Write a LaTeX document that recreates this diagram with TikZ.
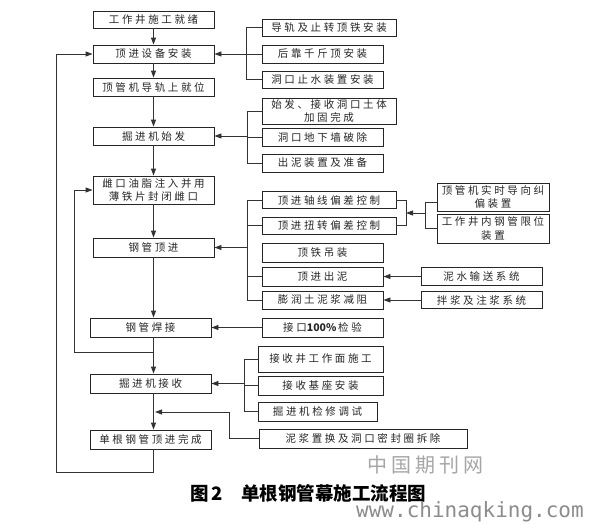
\documentclass[tikz,border=0pt]{standalone}
\usepackage{fontspec}
\usetikzlibrary{arrows.meta}
\newfontfamily\boxfont[LetterSpace=25]{Noto Sans CJK SC}
\newfontfamily\capfont{Noto Sans CJK SC}
\newfontfamily\wmfont[LetterSpace=20]{Noto Sans CJK SC}
\newfontfamily\wmmono{DejaVu Sans Mono}
\begin{document}
\begin{tikzpicture}[x=1pt,y=-1pt,
  box/.style={draw=black!85, line width=0.9pt, fill=white, inner sep=0pt,
    text=black!85, align=center, font=\boxfont\fontsize{10.5}{13.5}\selectfont},
  ln/.style={draw=black!80, line width=0.9pt},
  arr/.style={ln, -{Triangle[length=7pt,width=5pt]}}]
\useasboundingbox (0,0) rectangle (590,523);
\fill[white] (0,0) rectangle (590,523);
% helper coordinates
\coordinate (cl) at (153.5,0);
\coordinate (bx2) at (248,0);
\coordinate (bx3) at (248,0);
\coordinate (bx4) at (245,0);
% left column
\node[box, minimum width=121pt, minimum height=17pt] (a1) at (153.5,19.5) {工作井施工就绪};
\node[box, minimum width=121pt, minimum height=18pt] (a2) at (153.5,54) {顶进设备安装};
\node[box, minimum width=121pt, minimum height=18pt] (a3) at (153.5,87) {顶管机导轨上就位};
\node[box, minimum width=121pt, minimum height=18pt] (a4) at (153.5,136) {掘进机始发};
\node[box, minimum width=121pt, minimum height=28pt] (a5) at (153.5,190) {雌口油脂注入并用\\薄铁片封闭雌口};
\node[box, minimum width=121pt, minimum height=19pt] (a6) at (153.5,247.5) {钢管顶进};
\node[box, minimum width=121pt, minimum height=19pt] (a7) at (150.5,327.5) {钢管焊接};
\node[box, minimum width=121pt, minimum height=19pt] (a8) at (150.5,383.5) {掘进机接收};
\node[box, minimum width=121pt, minimum height=19pt] (a9) at (150.5,439.5) {单根钢管顶进完成};
% group 1
\node[box, minimum width=134pt, minimum height=17pt] (b1) at (329,27.5) {导轨及止转顶铁安装};
\node[box, minimum width=121pt, minimum height=18pt] (b2) at (322.5,54) {后靠千斤顶安装};
\node[box, minimum width=121pt, minimum height=17pt] (b3) at (322.5,79.5) {洞口止水装置安装};
% group 2
\node[box, minimum width=134pt, minimum height=26pt] (c1) at (329,111) {始发、接收洞口土体\\加固完成};
\node[box, minimum width=121pt, minimum height=18pt] (c2) at (322.5,137.5) {洞口地下墙破除};
\node[box, minimum width=121pt, minimum height=18pt] (c3) at (322.5,163) {出泥装置及准备};
% group 3
\node[box, minimum width=134pt, minimum height=17pt] (d1) at (329,200) {顶进轴线偏差控制};
\node[box, minimum width=134pt, minimum height=17pt] (d2) at (329,225.5) {顶进扭转偏差控制};
\node[box, minimum width=121pt, minimum height=19pt] (d3) at (322.5,252.5) {顶铁吊装};
\node[box, minimum width=121pt, minimum height=19pt] (d4) at (322.5,276.5) {顶进出泥};
\node[box, minimum width=121pt, minimum height=18pt] (d5) at (322.5,300) {膨润土泥浆减阻};
\node[box, minimum width=112pt, minimum height=28pt] (f1) at (493,197) {顶管机实时导向纠\\偏装置};
\node[box, minimum width=112pt, minimum height=29pt] (f2) at (493,228.5) {工作井内钢管限位\\装置};
\node[box, minimum width=121pt, minimum height=18pt] (g1) at (481.5,276.5) {泥水输送系统};
\node[box, minimum width=121pt, minimum height=17pt] (g2) at (481.5,300) {拌浆及注浆系统};
\node[box, minimum width=121pt, minimum height=19pt] (h1) at (322.5,327.5) {接口{\capfont\bfseries 100\%}\,检验};
% group 4
\node[box, minimum width=125pt, minimum height=26pt] (e1) at (320.5,359) {接收井工作面施工};
\node[box, minimum width=125pt, minimum height=19pt] (e2) at (320.5,385.5) {接收基座安装};
\node[box, minimum width=119pt, minimum height=19pt] (e3) at (317.5,411.5) {掘进机检修调试};
\node[box, minimum width=208pt, minimum height=19pt] (m1) at (363,438.5) {泥浆置换及洞口密封圈拆除};
% free-end coordinates
\coordinate (sb) at (406,213);
\coordinate (rb) at (426,213);
\coordinate (j1) at (155,412);
\coordinate (ob) at (56,472);
\coordinate (ib) at (74,352);
% main column arrows
\draw[arr] (a1) -- (a2);
\draw[arr] (a2) -- (a3);
\draw[arr] (a3) -- (a4);
\draw[arr] (a4) -- (a5);
\draw[arr] (a5) -- (a6);
\draw[arr] (a6.south) -- (a6.south |- a7.north);
\draw[arr] (a7.south -| cl) -- (a8.north -| cl);
\draw[arr] (a8.south -| cl) -- (a9.north -| cl);
% group 1 bracket
\draw[ln] (b1.west) -- ++(-15,0) |- (b3.west);
\draw[arr] (b2.west) -- (a2.east);
% group 2 bracket
\draw[ln] (c1.west) -- ++(-14,0) |- (c3.west);
\draw[ln] (c2.west) -- ++(-14,0);
\draw[arr] (a4.east -| bx2) -- (a4.east);
% group 3 bracket
\draw[ln] (d1.west) -- ++(-14,0) |- (d5.west);
\draw[ln] (d2.west) -- ++(-14,0);
\draw[ln] (d4.west) -- ++(-14,0);
\draw[arr] (a6.east -| bx3) -- (a6.east);
\draw[ln] (d1.east) -- ++(10,0) |- (d2.east);
\draw[ln] ([yshift=-5pt]f1.west) -- ++(-11,0) |- (f2.west);
\draw[arr] (rb) -- (sb);
\draw[arr] (g1.west) -- (d4.east);
\draw[arr] (g2.west) -- (d5.east);
\draw[arr] (h1.west) -- (a7.east);
% group 4 bracket
\draw[ln] (e1.west) -- ++(-13,0) |- (e3.west);
\draw[ln] (e2.west) -- ++(-13,0);
\draw[arr] (a8.east -| bx4) -- (a8.east);
\draw[arr] (m1.west) -- ++(-29,0) |- (j1);
% feedback loops
\draw[arr] (a9.south -| cl) |- (ob) |- (a2.west);
\draw[arr] (cl |- ib) -- (ib) |- (a5.west);
% caption and watermark
\node[anchor=west, inner sep=0pt, font=\capfont\bfseries\fontsize{18.5}{18.5}\selectfont] (cap) at (190,493) {图\,2\hspace{18pt}单根钢管幕施工流程图};
\node[inner sep=0pt, text=black!35, font=\wmfont\fontsize{20}{20}\selectfont] (w1) at (425,465) {中国期刊网};
\node[anchor=west, inner sep=0pt, text=black!45, font=\wmmono\fontsize{21}{21}\selectfont] (w2) at (356,512) {www.chinaqking.com};
\end{tikzpicture}
\end{document}
